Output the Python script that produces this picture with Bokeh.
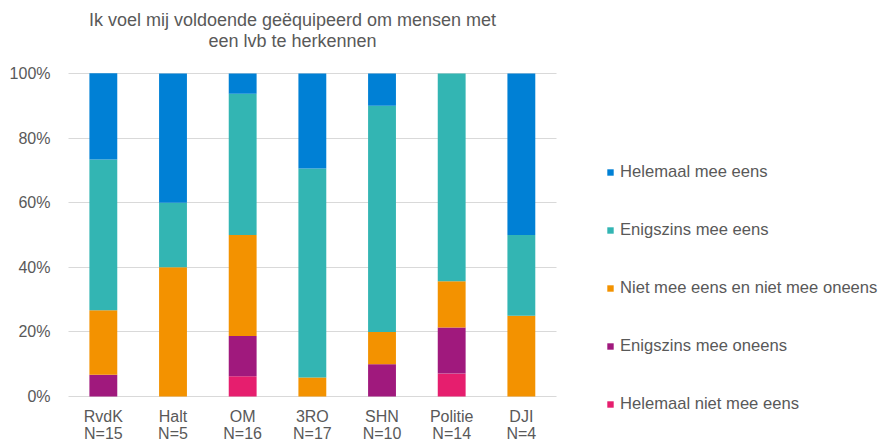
from bokeh.plotting import figure
from bokeh.models import Range1d, FixedTicker, Legend, LegendItem, Label, ColumnDataSource
from bokeh.embed import file_html
from bokeh.resources import INLINE

categories = ["RvdK", "Halt", "OM", "3RO", "SHN", "Politie", "DJI"]
n_values = [15, 5, 16, 17, 10, 14, 4]
helemaal_niet = [0, 0, 6.25, 0, 0, 7.1, 0]
enigszins_oneens = [6.7, 0, 12.5, 0, 10, 14.3, 0]
neutraal = [20, 40, 31.25, 5.9, 10, 14.3, 25]
enigszins_eens = [46.7, 20, 43.75, 64.7, 70, 64.3, 25]
helemaal_eens = [26.7, 40, 6.25, 29.4, 10, 0, 50]
y_ticks = [0, 20, 40, 60, 80, 100]
y_tick_labels = ["0%", "20%", "40%", "60%", "80%", "100%"]
series_names = ["Helemaal niet mee eens", "Enigszins mee oneens",
                "Niet mee eens en niet mee oneens", "Enigszins mee eens", "Helemaal mee eens"]
colors = ["#E61E6E", "#A0197D", "#F39200", "#33B5B3", "#0080D5"]
title_lines = ["Ik voel mij voldoende geëquipeerd om mensen met", "een lvb te herkennen"]

W, H = 881, 443
PX_X = 69.67            # pixels per category
PX_Y = 3.23             # pixels per percent
X0, Y0 = 68, 396        # pixel position of the category/percent origin

positions = [i + 0.5 for i in range(len(categories))]
x_labels = [f"{c}\nN={n}" for c, n in zip(categories, n_values)]
keys = ["s0", "s1", "s2", "s3", "s4"]
source = ColumnDataSource(dict(x=positions, s0=helemaal_niet, s1=enigszins_oneens,
                               s2=neutraal, s3=enigszins_eens, s4=helemaal_eens))

FONT = "Liberation Sans"
GREY = "#595959"

p = figure(width=W, height=H, output_backend="svg", toolbar_location=None,
           x_range=Range1d(-X0 / PX_X, (W - X0) / PX_X),
           y_range=Range1d(-(H - Y0) / PX_Y, Y0 / PX_Y),
           min_border=0, min_border_left=0, min_border_right=0,
           min_border_top=0, min_border_bottom=0, title=None)
p.outline_line_color = None
p.background_fill_color = "white"
p.border_fill_color = "white"

# grid (limited to the category area)
p.xgrid.grid_line_color = None
yg = p.ygrid[0]
yg.ticker = FixedTicker(ticks=y_ticks)
if "cross_bounds" in yg.properties():
    yg.cross_bounds = (0, len(categories))
    yg.grid_line_color = "#D9D9D9"
else:
    yg.grid_line_color = None
    p.segment(x0=[0] * len(y_ticks), x1=[len(categories)] * len(y_ticks),
              y0=y_ticks, y1=y_ticks, line_color="#D9D9D9", line_width=1)

renderers = p.vbar_stack(keys, x="x", width=0.4, color=colors, line_color=None, source=source)

p.yaxis.ticker = FixedTicker(ticks=y_ticks)
p.yaxis.major_label_overrides = {t: l for t, l in zip(y_ticks, y_tick_labels)}
p.xaxis.ticker = FixedTicker(ticks=positions)
p.xaxis.major_label_overrides = {x: l for x, l in zip(positions, x_labels)}
p.xaxis.fixed_location = 0
p.yaxis.fixed_location = 0
for ax in (p.xaxis[0], p.yaxis[0]):
    ax.axis_line_color = None
    ax.major_tick_line_color = None
    ax.minor_tick_line_color = None
    ax.major_label_text_font = FONT
    ax.major_label_text_font_size = "16px"
    ax.major_label_text_color = GREY
p.yaxis.major_label_standoff = 12
p.xaxis.major_label_standoff = 5
p.xaxis.major_label_text_line_height = 1.05

items = [LegendItem(label=series_names[i], renderers=[renderers[i]]) for i in range(4, -1, -1)]
legend = Legend(items=items, location=(606, 29), orientation="vertical",
                glyph_width=8, glyph_height=8, label_height=20, spacing=38,
                label_standoff=6, padding=0, margin=0,
                label_text_font=FONT, label_text_font_size="16.6px", label_text_color=GREY,
                background_fill_alpha=0, border_line_color=None)
p.add_layout(legend, "center")

for line, ypx in zip(title_lines, [19, 40]):
    p.add_layout(Label(x=(292 - X0) / PX_X, y=(Y0 - ypx) / PX_Y, text=line,
                       text_align="center", text_baseline="middle",
                       text_font=FONT, text_font_size="18px", text_color=GREY))

open("out.html", "w").write(file_html(p, INLINE))
